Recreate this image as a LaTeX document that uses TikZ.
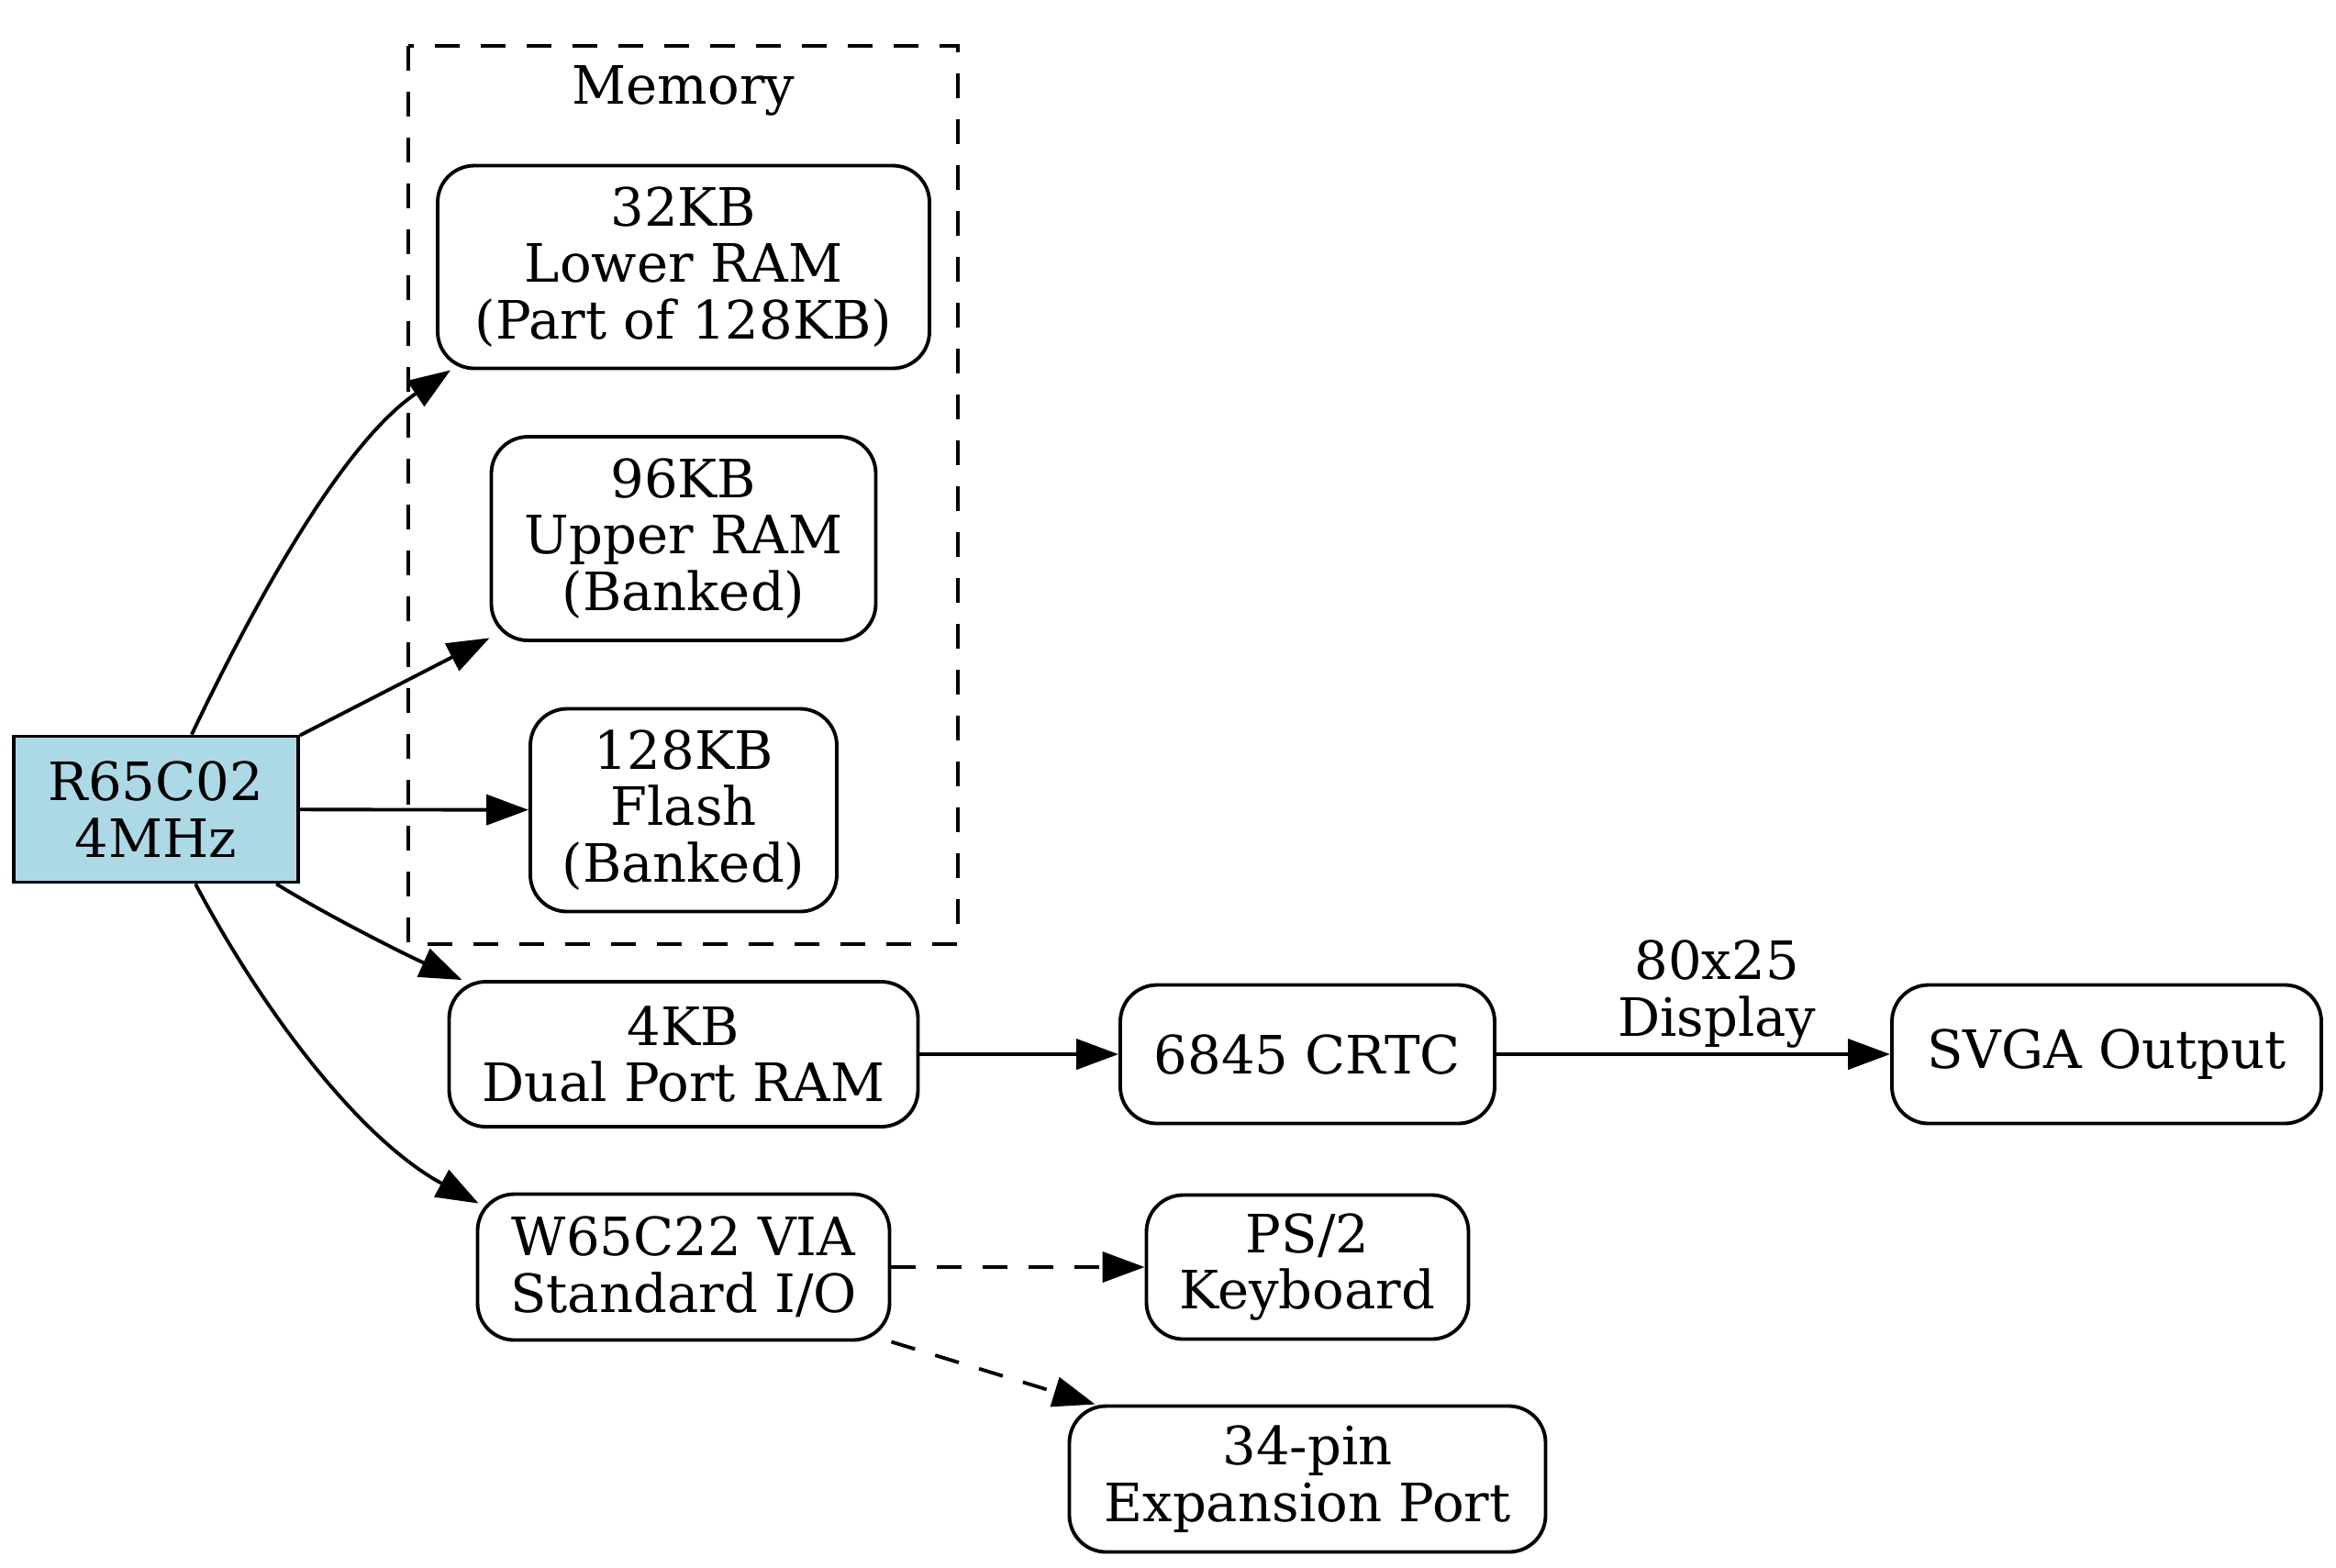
\documentclass[tikz,border=0pt]{standalone}
\usepackage{fontspec}
\setmainfont{DejaVu Serif}
\usetikzlibrary{arrows.meta}
\definecolor{cpublue}{HTML}{ADD8E6}

\begin{document}
\begin{tikzpicture}[align=center, font=\fontsize{16.4}{17.6}\selectfont,
  line width=1.1pt,
  blk/.style={draw, rounded corners=0.4cm, inner sep=0pt},
  edge/.style={-{Triangle[length=0.46cm, width=0.33cm]}},
  dsh/.style={dash pattern=on 0.27cm off 0.23cm}]
\useasboundingbox (0,0) rectangle (25.46,-17.08);

\draw[dsh] (4.45,-0.50) rectangle (10.44,-10.29);

\path (7.45,-1.13) node[anchor=base] (mem) {Memory}

      (1.70,-8.82) node[draw, fill=cpublue, inner sep=0pt, minimum width=3.10cm, minimum height=1.59cm] (cpu) {R65C02\\4MHz}

      (7.45,-2.91) node[blk, minimum width=5.36cm, minimum height=2.21cm] (lram) {32KB\\Lower RAM\\(Part of 128KB)}
      (7.45,-5.87) node[blk, minimum width=4.19cm, minimum height=2.22cm] (uram) {96KB\\Upper RAM\\(Banked)}
      (7.45,-8.83) node[blk, minimum width=3.34cm, minimum height=2.21cm] (flash) {128KB\\Flash\\(Banked)}
      (7.45,-11.49) node[blk, minimum width=5.11cm, minimum height=1.58cm] (dpram) {4KB\\Dual Port RAM}
      (7.45,-13.81) node[blk, minimum width=4.49cm, minimum height=1.59cm] (via) {W65C22 VIA\\Standard I/O}

      (14.25,-11.49) node[blk, minimum width=4.08cm, minimum height=1.51cm] (crtc) {6845 CRTC}
      (14.25,-13.81) node[blk, minimum width=3.51cm, minimum height=1.57cm] (kbd) {PS/2\\Keyboard}
      (14.25,-16.12) node[blk, minimum width=5.19cm, minimum height=1.59cm] (exp) {34-pin\\Expansion Port}

      (22.96,-11.49) node[blk, minimum width=4.68cm, minimum height=1.51cm] (svga) {SVGA Output};

\draw[edge] (cpu) .. controls (2.77,-6.58) and (3.73,-4.83) .. ([xshift=0.16cm]lram.south west);
\draw[edge] (cpu) -- (uram);
\draw[edge] (cpu) -- (flash);
\draw[edge] (cpu) .. controls (3.57,-9.98) and (4.43,-10.41) .. ([xshift=0.16cm]dpram.north west);
\draw[edge] (cpu) .. controls (2.88,-11.05) and (3.93,-12.42) .. ([xshift=0.03cm, yshift=-0.12cm]via.north west);

\draw[edge] (dpram) -- (crtc);
\draw[edge] (crtc) -- node[pos=0.56, above, inner sep=0.05cm] (disp) {80x25\\Display} (svga);

\draw[edge, dsh] (via) -- (kbd);
\draw[edge, dsh] (via.south east) -- ([xshift=0.3cm]exp.north west);

\end{tikzpicture}
\end{document}
